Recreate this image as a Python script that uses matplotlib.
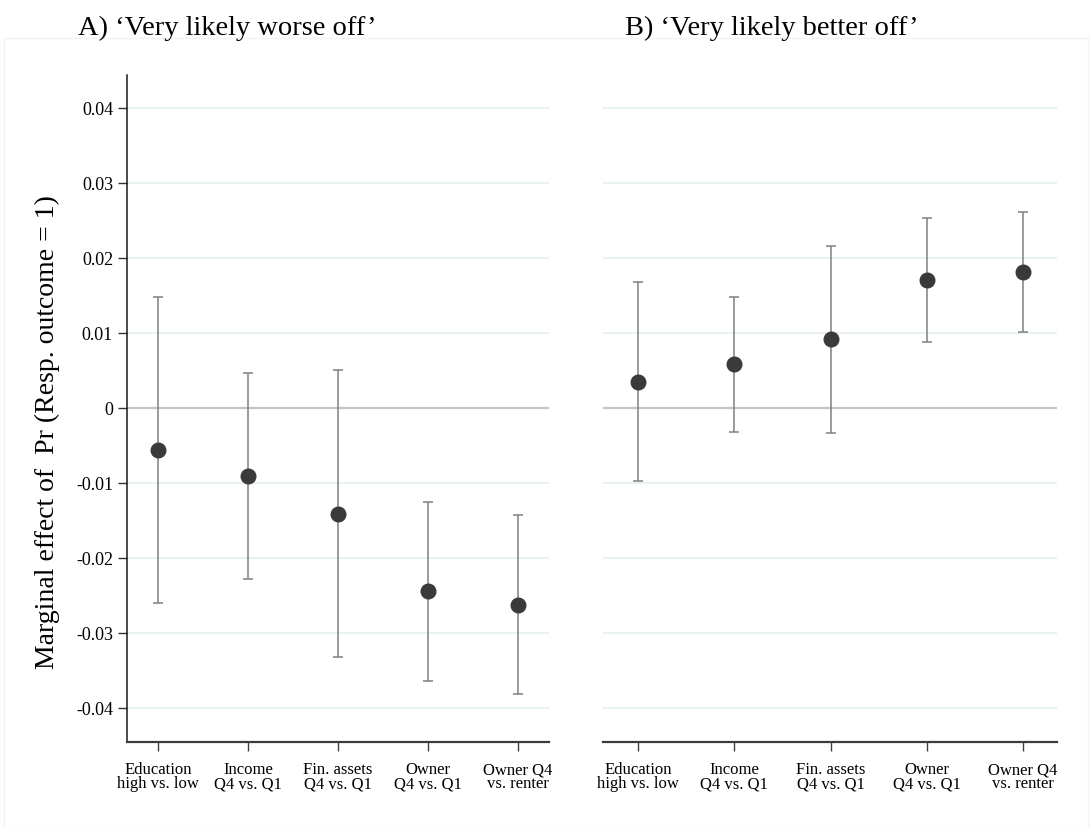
import numpy as np
import matplotlib
matplotlib.use("Agg")
import matplotlib.pyplot as plt
from matplotlib.patches import Rectangle

plt.rcParams['font.family'] = ['Liberation Serif', 'DejaVu Serif']
plt.rcParams['axes.unicode_minus'] = False

# Data
categories = ["Education\nhigh vs. low", "Income\nQ4 vs. Q1", "Fin. assets\nQ4 vs. Q1",
              "Owner\nQ4 vs. Q1", "Owner Q4\nvs. renter"]

worse_est = [-0.0056, -0.0091, -0.0141, -0.0244, -0.0263]
worse_lo = [-0.0260, -0.0228, -0.0332, -0.0364, -0.0381]
worse_hi = [0.0148, 0.0047, 0.0051, -0.0125, -0.0143]

better_est = [0.0035, 0.0059, 0.0092, 0.0171, 0.0182]
better_lo = [-0.0097, -0.0032, -0.0033, 0.0088, 0.0102]
better_hi = [0.0168, 0.0148, 0.0216, 0.0254, 0.0262]

yticks = [-0.04, -0.03, -0.02, -0.01, 0, 0.01, 0.02, 0.03, 0.04]
ytick_labels = ["-0.04", "-0.03", "-0.02", "-0.01", "0", "0.01", "0.02", "0.03", "0.04"]

titles = ["A) \u2018Very likely worse off\u2019", "B) \u2018Very likely better off\u2019"]
ylabel = "Marginal effect of  Pr (Resp. outcome = 1)"

W, H = 1092, 827
fig = plt.figure(figsize=(W / 100, H / 100), dpi=100)

# faint outer frame of the graph region
fig.patches.append(Rectangle((4 / W, 0.0), (W - 8) / W, (H - 38) / H, transform=fig.transFigure,
                             fill=False, edgecolor='#f3f3f3', linewidth=1.0))


def px_axes(x0, x1, y0, y1):
    return fig.add_axes([x0 / W, (H - y1) / H, (x1 - x0) / W, (y1 - y0) / H])


ax_a = px_axes(127, 549, 75, 742)
ax_b = px_axes(603, 1057, 75, 742)

panels = [
    (ax_a, worse_est, worse_lo, worse_hi, (0.656, 5.344)),
    (ax_b, better_est, better_lo, better_hi, (0.636, 5.353)),
]

x = np.arange(1, len(categories) + 1)
for i, (ax, est, lo, hi, xl) in enumerate(panels):
    est = np.array(est)
    err = np.vstack([est - np.array(lo), np.array(hi) - est])

    for t in yticks:
        if t == 0:
            ax.axhline(0, color='#c4c4c4', lw=1.6, zorder=1)
        else:
            ax.axhline(t, color='#e9f2f3', lw=1.5, zorder=1)

    ax.errorbar(x, est, yerr=err, fmt='none', ecolor='#808080', elinewidth=1.1,
                capsize=3.8, capthick=1.1, zorder=2)
    ax.plot(x, est, 'o', color='#3a3a3a', markersize=10.5, zorder=3)

    ax.set_xlim(*xl)
    ax.set_ylim(-0.0445, 0.0444)
    ax.set_xticks(x)
    ax.set_xticklabels(categories, fontsize=12, linespacing=0.85)
    ax.tick_params(axis='x', direction='out', length=6.5, width=1.0, color='#404040', pad=8)

    ax.spines['top'].set_visible(False)
    ax.spines['right'].set_visible(False)
    ax.spines['bottom'].set_color('#3c3c3c')
    ax.spines['bottom'].set_linewidth(1.6)

    if i == 0:
        ax.set_yticks(yticks)
        ax.set_yticklabels(ytick_labels, fontsize=13)
        ax.tick_params(axis='y', direction='out', length=6.5, width=1.0, color='#303030', pad=3.5)
        ax.spines['left'].set_color('#1a1a1a')
        ax.spines['left'].set_linewidth(1.1)
        ax.set_ylabel(ylabel, fontsize=20)
        ax.yaxis.set_label_coords(-0.158, 0.465)
    else:
        ax.set_yticks([])
        ax.spines['left'].set_visible(False)

fig.text(78 / W, 1 - 28 / H, titles[0], fontsize=20.5, ha='left', va='center')
fig.text(625 / W, 1 - 28 / H, titles[1], fontsize=20.5, ha='left', va='center')

fig.savefig('out.png', dpi=100)
